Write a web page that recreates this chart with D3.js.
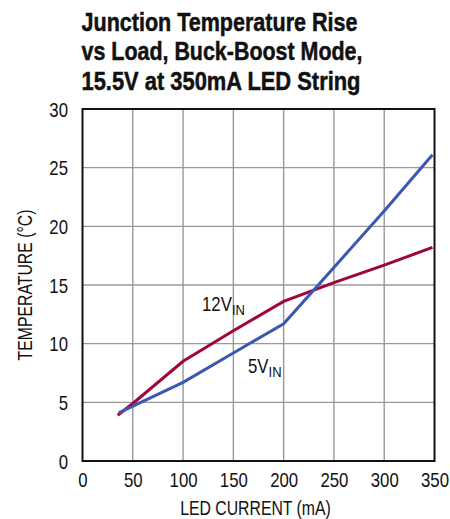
<!DOCTYPE html>
<html><head><meta charset="utf-8">
<script src="https://cdn.jsdelivr.net/npm/d3@7"></script>
<style>html,body{margin:0;padding:0;background:#fff;}</style>
</head><body>
<script>
const titleLines = ["Junction Temperature Rise", "vs Load, Buck-Boost Mode,", "15.5V at 350mA LED String"];
const titleWidths = [276, 281, 279];
const xTicks = [0, 50, 100, 150, 200, 250, 300, 350];
const yTicks = [0, 5, 10, 15, 20, 25, 30];
const current12 = [35, 50, 100, 150, 200, 250, 300, 348];
const temp12 = [3.9, 4.9, 8.5, 11.1, 13.6, 15.2, 16.7, 18.2];
const current5 = [36, 100, 150, 200, 250, 300, 348];
const temp5 = [4.1, 6.7, 9.2, 11.7, 16.5, 21.3, 26.1];

const W = 450, H = 519;
const L = 82.5, R = 434.5, T = 109, B = 461;
const font = "'Liberation Sans', Arial, sans-serif";
const K = 0.84; // horizontal condensing
const FS = 20;

const svg = d3.select("body").append("svg").attr("width", W).attr("height", H);
const x = d3.scaleLinear().domain([0, 350]).range([L, R]);
const y = d3.scaleLinear().domain([0, 30]).range([B, T]);

// title
svg.append("g").selectAll("text").data(titleLines).join("text")
  .attr("x", 81.5).attr("y", (d, i) => 31.2 + i * 29.2)
  .attr("font-family", font).attr("font-weight", "bold").attr("font-size", 26.5)
  .attr("textLength", (d, i) => titleWidths[i]).attr("lengthAdjust", "spacingAndGlyphs")
  .attr("fill", "#111").attr("stroke", "#111").attr("stroke-width", 0.5).text(d => d);

// grid
svg.append("g").selectAll("line").data(xTicks.slice(1, -1)).join("line")
  .attr("x1", d => x(d)).attr("x2", d => x(d)).attr("y1", T).attr("y2", B)
  .attr("stroke", "#999").attr("stroke-width", 1.4);
svg.append("g").selectAll("line").data(yTicks.slice(1, -1)).join("line")
  .attr("y1", d => y(d)).attr("y2", d => y(d)).attr("x1", L).attr("x2", R)
  .attr("stroke", "#999").attr("stroke-width", 1.4);

// axes labels via d3 axes
const xAxis = svg.append("g").attr("transform", `translate(0,${B})`)
  .call(d3.axisBottom(x).tickValues(xTicks).tickSize(0).tickPadding(12));
xAxis.select(".domain").remove();
xAxis.selectAll("text").attr("font-family", font).attr("font-size", FS).attr("fill", "#111")
  .attr("transform", `scale(${K},1)`);

const yAxis = svg.append("g").attr("transform", `translate(${L},0)`)
  .call(d3.axisLeft(y).tickValues(yTicks).tickSize(0).tickPadding(14.5 / K));
yAxis.select(".domain").remove();
yAxis.selectAll("text").attr("font-family", font).attr("font-size", FS).attr("fill", "#111")
  .attr("dy", "0.36em").attr("transform", `scale(${K},1)`);

// frame
svg.append("rect").attr("x", L).attr("y", T).attr("width", R - L).attr("height", B - T)
  .attr("fill", "none").attr("stroke", "#111").attr("stroke-width", 2);

// series
const line = d3.line().x(d => x(d[0])).y(d => y(d[1]));
svg.append("path").datum(d3.zip(current12, temp12)).attr("d", line)
  .attr("fill", "none").attr("stroke", "#a0063a").attr("stroke-width", 3);
svg.append("path").datum(d3.zip(current5, temp5)).attr("d", line)
  .attr("fill", "none").attr("stroke", "#3b58b0").attr("stroke-width", 3);

// series labels
function vin(xp, yp, main) {
  const t = svg.append("g").attr("transform", `translate(${xp},${yp}) scale(${K},1)`)
    .append("text").attr("font-family", font).attr("font-size", FS).attr("fill", "#111");
  t.append("tspan").text(main);
  t.append("tspan").attr("dy", 4).attr("font-size", 15.5).text("IN");
}
vin(202, 311, "12V");
vin(248, 373, "5V");

// axis titles
svg.append("g").attr("transform", `translate(255.5,515) scale(0.79,1)`)
  .append("text").attr("text-anchor", "middle")
  .attr("font-family", font).attr("font-size", FS).attr("fill", "#111").text("LED CURRENT (mA)");
svg.append("g").attr("transform", "translate(32,285) rotate(-90) scale(0.79,1)")
  .append("text").attr("text-anchor", "middle")
  .attr("font-family", font).attr("font-size", FS).attr("fill", "#111").text("TEMPERATURE (°C)");
</script>
</body></html>
